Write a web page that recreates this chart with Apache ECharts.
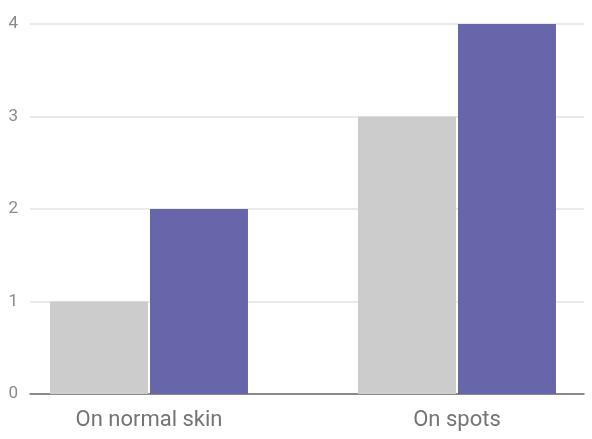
<!DOCTYPE html>
<html>
<head>
<meta charset="utf-8">
<script src="https://cdn.jsdelivr.net/npm/echarts@6/dist/echarts.min.js"></script>
<style>html,body{margin:0;padding:0;background:#fff}#c{width:592px;height:439px}</style>
</head>
<body>
<div id="c"></div>
<script>
const categories = ['On normal skin', 'On spots'];
const seriesGray = [1, 3];
const seriesPurple = [2, 4];
const yTicks = [0, 1, 2, 3, 4];

const chart = echarts.init(document.getElementById('c'), null, {renderer: 'canvas'});
const font = 'Roboto';
chart.setOption({
  animation: false,
  grid: [
    {left: 30, right: 8, top: 24, bottom: 45, outerBoundsMode: 'none', containLabel: false},
    {left: -5, width: 616, top: 24, bottom: 45, outerBoundsMode: 'none', containLabel: false}
  ],
  xAxis: [
    {gridIndex: 0, type: 'category', data: [''], axisLabel: {show: false}, axisTick: {show: false},
     axisLine: {show: true, lineStyle: {color: '#6b6b6b', width: 1.5}}},
    {gridIndex: 1, type: 'category', data: categories, axisTick: {show: false}, axisLine: {show: false},
     axisLabel: {color: '#747474', fontFamily: font, fontSize: 22, margin: 15}}
  ],
  yAxis: [
    {gridIndex: 0, type: 'value', min: yTicks[0], max: yTicks[yTicks.length - 1], interval: 1,
     axisLine: {show: false}, axisTick: {show: false},
     axisLabel: {color: '#8a8a8a', fontFamily: font, fontSize: 17, margin: 12},
     splitLine: {lineStyle: {color: '#e3e3e3', width: 1.5}}},
    {gridIndex: 1, type: 'value', min: yTicks[0], max: yTicks[yTicks.length - 1], interval: 1,
     show: false, splitLine: {show: false}}
  ],
  series: [
    {type: 'bar', xAxisIndex: 1, yAxisIndex: 1, data: seriesGray, barWidth: 98, barGap: '2%',
     itemStyle: {color: '#cccccc'}},
    {type: 'bar', xAxisIndex: 1, yAxisIndex: 1, data: seriesPurple, barWidth: 98, barGap: '2%',
     itemStyle: {color: '#6766ab'}}
  ]
});
</script>
</body>
</html>
